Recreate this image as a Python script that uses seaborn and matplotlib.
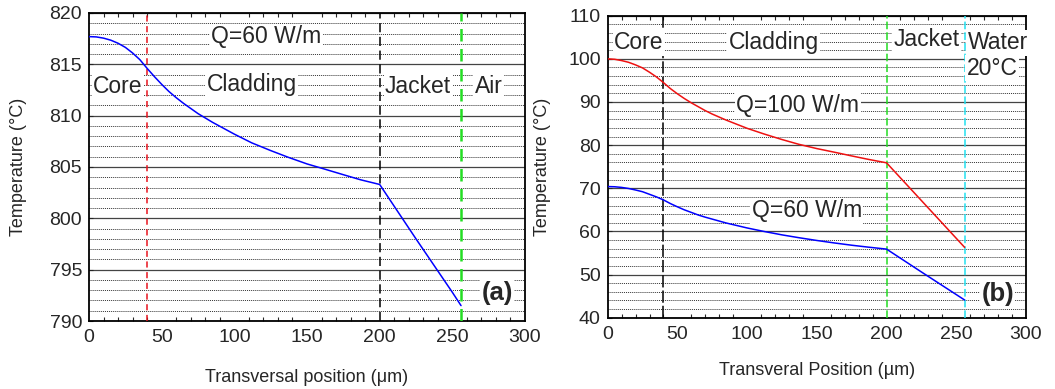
import numpy as np
import pandas as pd
import matplotlib
matplotlib.use("Agg")
import matplotlib.pyplot as plt
from matplotlib.ticker import MultipleLocator
import seaborn as sns

# ---------------- data ----------------
pos_a = [0, 5, 10, 15, 20, 25, 30, 35, 40, 45, 50, 55, 60, 65, 70, 75, 85, 100, 112, 125,
         137, 150, 162, 175, 187, 200, 225, 250, 256]
temp_a = [817.7, 817.67, 817.55, 817.35, 817.05, 816.65, 816.1, 815.45, 814.6, 813.8, 813.05,
          812.35, 811.75, 811.2, 810.7, 810.2, 809.35, 808.2, 807.35, 806.6, 805.95, 805.3,
          804.8, 804.25, 803.75, 803.3, 798.0, 792.8, 791.5]

pos_b = [0, 5, 10, 15, 20, 25, 30, 35, 40, 45, 50, 55, 60, 65, 70, 75, 85, 100, 112, 125,
         137, 150, 162, 175, 187, 200, 225, 256]
temp_b_100 = [100.0, 99.9, 99.6, 99.2, 98.6, 97.9, 96.9, 95.8, 94.5, 93.1, 91.9, 90.8, 89.8,
              88.9, 88.0, 87.2, 85.8, 83.9, 82.6, 81.3, 80.2, 79.2, 78.4, 77.5, 76.7, 75.9,
              67.15, 56.3]
temp_b_60 = [70.4, 70.35, 70.2, 69.95, 69.6, 69.2, 68.6, 68.0, 67.3, 66.45, 65.7, 65.0,
             64.4, 63.8, 63.3, 62.85, 61.95, 60.8, 60.0, 59.2, 58.55, 57.9, 57.35, 56.8,
             56.35, 55.9, 50.6, 44.1]

xticks = [0, 50, 100, 150, 200, 250, 300]
yticks_a = [790, 795, 800, 805, 810, 815, 820]
yticks_b = [40, 50, 60, 70, 80, 90, 100, 110]

bounds_a = [40, 200, 256]
bounds_b = [40, 200, 256]

labels_a = ["Core", "Cladding", "Jacket", "Air"]
labels_b = ["Core", "Cladding", "Jacket", "Water"]

# ---------------- style ----------------
sns.set_style("ticks")
plt.rcParams['font.family'] = ['Liberation Sans', 'DejaVu Sans']
plt.rcParams['xtick.direction'] = 'in'
plt.rcParams['ytick.direction'] = 'in'

fig = plt.figure(figsize=(10.55, 3.89), dpi=100)
ax1 = fig.add_axes([0.0844, 0.1748, 0.4132, 0.7918])
ax2 = fig.add_axes([0.576, 0.1833, 0.3965, 0.7763])

box = dict(facecolor='white', edgecolor='none', pad=1.0)


def style_axes(ax, minor_y):
    ax.yaxis.set_minor_locator(MultipleLocator(minor_y))
    ax.xaxis.set_minor_locator(MultipleLocator(10))
    ax.grid(which='major', axis='y', color='#444444', linestyle='-', linewidth=0.9)
    ax.grid(which='minor', axis='y', color='#333333', linestyle=(0, (1, 1)), linewidth=0.7)
    ax.set_axisbelow(True)
    ax.tick_params(which='both', top=True, right=False, labelsize=14, length=3, width=0.8)
    ax.tick_params(which='minor', axis='y', left=False)
    ax.tick_params(which='major', axis='x', length=0, pad=6)
    ax.tick_params(which='major', axis='y', pad=5)
    for s in ax.spines.values():
        s.set_linewidth(1.3)
        s.set_color('black')


# ---------------- panel (a) ----------------
df_a = pd.DataFrame({"pos": pos_a, "temp": temp_a})
sns.lineplot(data=df_a, x="pos", y="temp", ax=ax1, color='#0000ff', linewidth=1.1, zorder=5)
ax1.axvline(bounds_a[0], color='#e8141e', linestyle=(0, (4, 3)), linewidth=1.1, zorder=4)
ax1.axvline(bounds_a[1], color='black', linestyle=(0, (6, 3)), linewidth=1.1, zorder=4)
ax1.axvline(bounds_a[2], color='#22dd22', linestyle=(0, (5, 3)), linewidth=1.8, zorder=4)
ax1.set_xlim(0, 300)
ax1.set_ylim(790, 820)
ax1.set_xticks(xticks)
ax1.set_yticks(yticks_a)
style_axes(ax1, 1)
ax1.set_xlabel("Transversal position (\u03bcm)", fontsize=13, labelpad=16)
ax1.set_ylabel("Temperature (\u00b0C)", fontsize=13, labelpad=16)

ta = dict(fontsize=16.5, ha='center', va='center', bbox=box, zorder=6)
ax1.text(122, 817.7, "Q=60 W/m", **ta)
ax1.text(20, 812.8, labels_a[0], **ta)
ax1.text(112, 813.0, labels_a[1], **ta)
ax1.text(226.5, 812.8, labels_a[2], **ta)
ax1.text(275, 812.8, labels_a[3], **ta)
ax1.text(281, 792.7, "(a)", fontsize=18.5, fontweight='bold', ha='center', va='center',
         bbox=box, zorder=6)

# ---------------- panel (b) ----------------
df_b = pd.DataFrame({"pos": pos_b * 2,
                     "temp": temp_b_100 + temp_b_60,
                     "Q": ["Q=100 W/m"] * len(pos_b) + ["Q=60 W/m"] * len(pos_b)})
sns.lineplot(data=df_b, x="pos", y="temp", hue="Q", ax=ax2,
             palette={"Q=100 W/m": '#ee1111', "Q=60 W/m": '#0000ff'},
             linewidth=1.1, legend=False, zorder=5)
ax2.axvline(bounds_b[0], color='black', linestyle=(0, (8, 2)), linewidth=1.1, zorder=4)
ax2.axvline(bounds_b[1], color='#22dd22', linestyle=(0, (5, 2)), linewidth=1.1, zorder=4)
ax2.axvline(bounds_b[2], color='#22e0f0', linestyle=(0, (5, 2)), linewidth=1.1, zorder=4)
ax2.set_xlim(0, 300)
ax2.set_ylim(40, 110)
ax2.set_xticks(xticks)
ax2.set_yticks(yticks_b)
style_axes(ax2, 2)
ax2.set_xlabel("Transveral Position (\u00b5m)", fontsize=13, labelpad=14)
ax2.set_ylabel("Temperature (\u00b0C)", fontsize=13, labelpad=12)

ax2.text(22.4, 103.7, labels_b[0], **ta)
ax2.text(119, 103.7, labels_b[1], **ta)
ax2.text(228.5, 104.4, labels_b[2], **ta)
ax2.text(279.8, 103.7, labels_b[3], clip_on=False, **ta)
ax2.text(275.7, 97.8, "20\u00b0C", **ta)
ax2.text(136.4, 89.3, "Q=100 W/m", **ta)
ax2.text(142.7, 64.8, "Q=60 W/m", **ta)
ax2.text(279.8, 45.6, "(b)", fontsize=18.5, fontweight='bold', ha='center', va='center',
         bbox=box, zorder=6)

fig.savefig("out.png", dpi=100)
